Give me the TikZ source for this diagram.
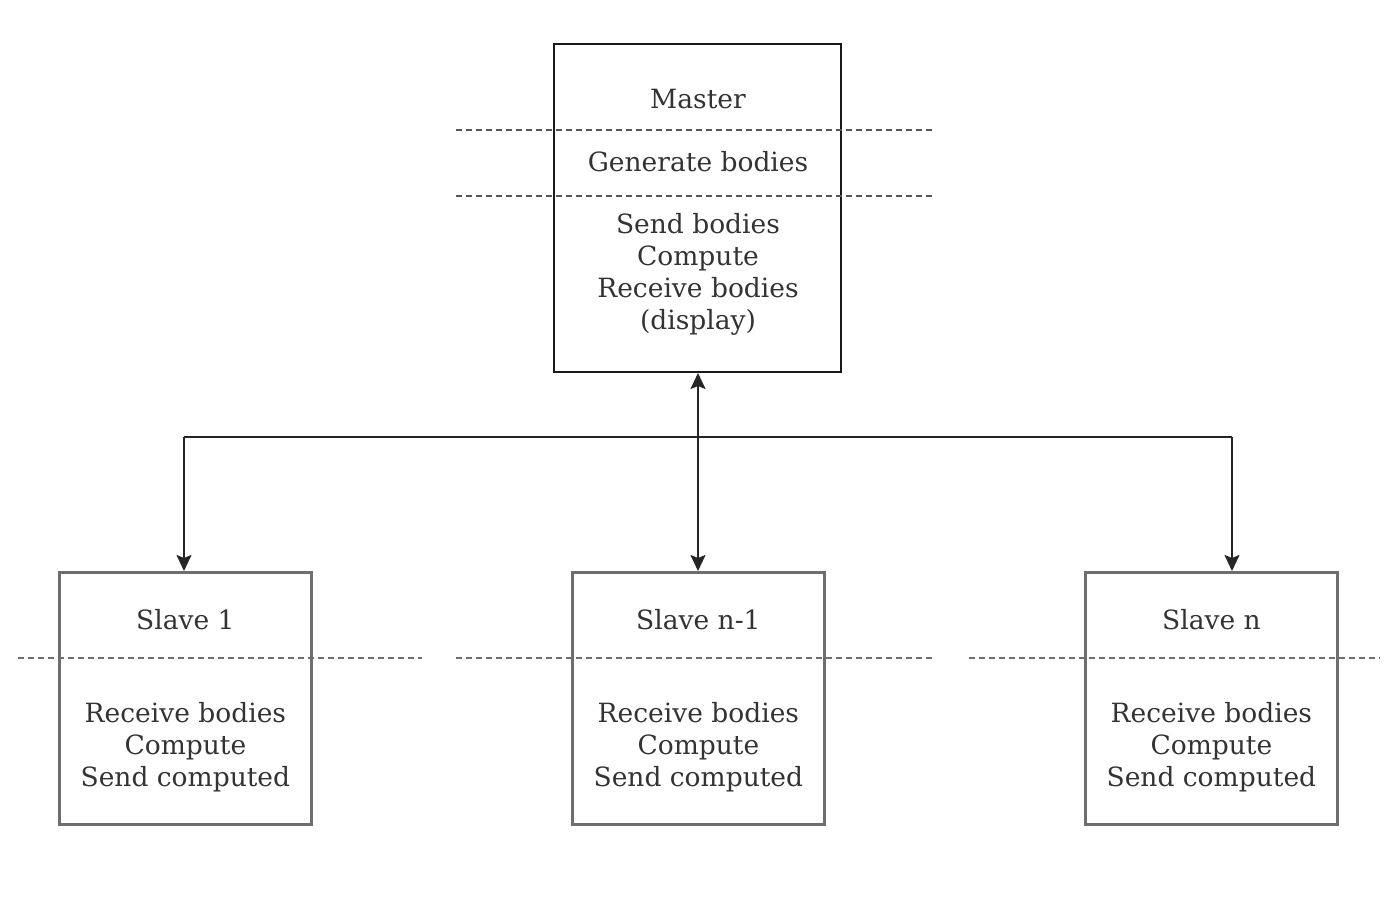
\documentclass[tikz,border=0pt]{standalone}
\usepackage{fontspec}
\setmainfont{DejaVu Serif}
\usetikzlibrary{arrows.meta}
\definecolor{txt}{HTML}{333333}
\definecolor{slavegray}{HTML}{6E6E6E}
\definecolor{dashgray}{HTML}{555555}
\begin{document}
\begin{tikzpicture}[x=1pt,y=-1pt,
  lbl/.style={font=\fontsize{26.5}{32}\selectfont, text=txt, align=center, inner sep=0pt},
  masterbox/.style={draw=black!90, line width=2pt, inner sep=0pt},
  slavebox/.style={draw=slavegray, line width=2.8pt, inner sep=0pt},
  sepline/.style={draw=dashgray, line width=1.5pt, dash pattern=on 6pt off 4pt},
  slavesep/.style={draw=slavegray, line width=2.4pt, dash pattern=on 6pt off 4pt},
  conn/.style={draw=black!85, line width=2pt},
  tip/.style={-{Stealth[length=16pt,width=15pt,inset=3pt]}}
]
\useasboundingbox (0,0) rectangle (1398,918);
% Master
\node[masterbox, minimum width=287pt, minimum height=328pt, anchor=north west] (master) at (553,43) {};
\node[lbl] (mt) at (698,99) {Master};
\node[lbl] (mg) at (698,162) {Generate bodies};
\node[lbl] (ms) at (698,274) {Send bodies\\Compute\\Receive bodies\\(display)};
\coordinate (m1l) at (456,130); \coordinate (m1r) at (935,130);
\coordinate (m2l) at (456,196); \coordinate (m2r) at (935,196);
\draw[sepline] (m1l) -- (m1r);
\draw[sepline] (m2l) -- (m2r);
% Slaves
\foreach \n/\x/\t/\dl/\dr in {s1/58/Slave 1/18/422, s2/571/Slave n-1/456/935, s3/1084/Slave n/969/1380}{
  \node[slavebox, minimum width=252pt, minimum height=252pt, anchor=north west] (\n) at (\x,571) {};
  \node[lbl] (\n t) at ([yshift=-49pt]\n.north) {\t};
  \node[lbl] (\n b) at ([yshift=-176pt]\n.north) {Receive bodies\\Compute\\Send computed};
  \coordinate (\n dl) at (\dl,658); \coordinate (\n dr) at (\dr,658);
  \draw[slavesep] (\n dl) -- (\n dr);
}
% Connectors
\coordinate (hub) at (698,437);
\coordinate (hl) at (184,437);
\coordinate (hr) at (1232,437);
\draw[conn] (hl) -- (hr);
\draw[conn, tip] (hub) -- (hub |- master.south);
\draw[conn, tip] (hub) -- (hub |- s2.north);
\draw[conn, tip] (hl) -- (hl |- s1.north);
\draw[conn, tip] (hr) -- (hr |- s3.north);
\end{tikzpicture}
\end{document}
